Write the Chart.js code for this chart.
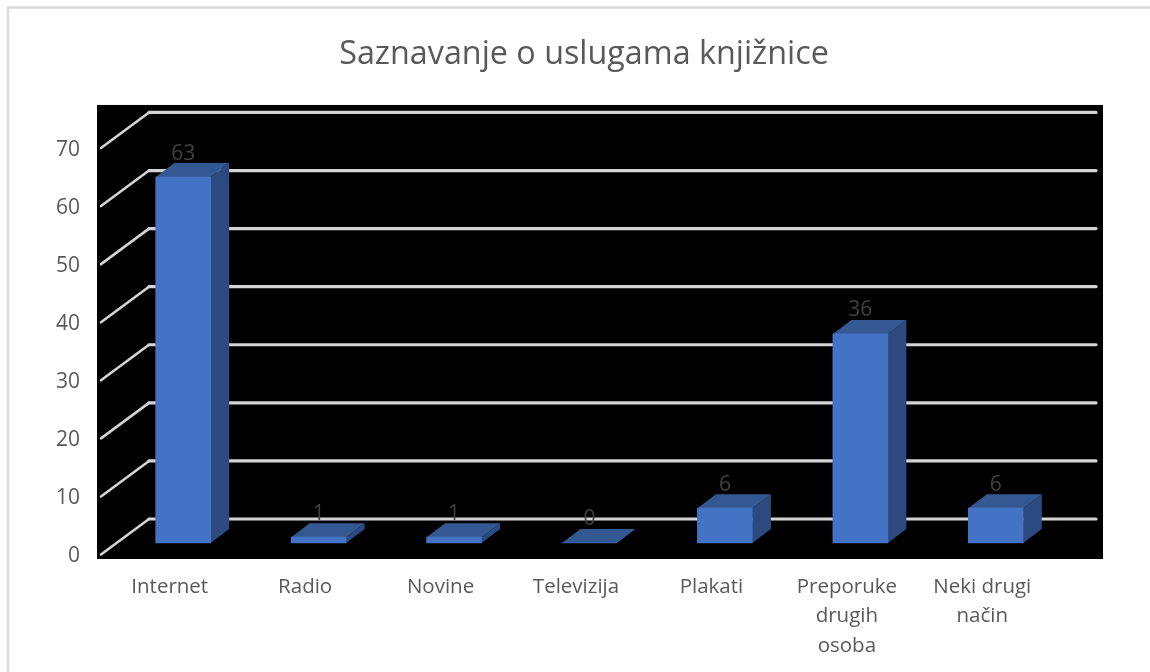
<!DOCTYPE html>
<html>
<head>
<meta charset="utf-8">
<title>Saznavanje o uslugama knjižnice</title>
<script src="https://cdn.jsdelivr.net/npm/chart.js@4"></script>
<style>
	html, body { margin: 0; padding: 0; background: #fff; overflow: hidden; }
	#wrap { position: relative; width: 1150px; height: 672px; }
</style>
</head>
<body>
<div id="wrap"><canvas id="chart" width="1150" height="672"></canvas></div>
<script>
const categories = ["Internet", "Radio", "Novine", "Televizija", "Plakati", ["Preporuke", "drugih", "osoba"], ["Neki drugi", "način"]];
const values = [63, 1, 1, 0, 6, 36, 6];
const yMax = 70;
const yStep = 10;

const fontName = '"Open Sans", sans-serif';
const textColor = "#595959";

// the 3d look: how far the back wall and the bar depth sit from the front plane
const wallDx = 47, wallDy = -35.5;
const barOffsetX = 13.5, barOffsetY = -11.5;
const depthX = 18.5, depthY = -14;

const fake3d = {
	id: "fake3d",
	beforeDraw(chart) {
		const c = chart.ctx, a = chart.chartArea;
		// outer frame, only top and left fall inside the picture
		c.save();
		c.strokeStyle = "#d9d9d9";
		c.lineWidth = 2.5;
		c.beginPath();
		c.moveTo(8, 672);
		c.lineTo(8, 7.5);
		c.lineTo(1150, 7.5);
		c.stroke();
		// black plot background
		c.fillStyle = "#000";
		c.fillRect(a.left - 5, a.top - 43, a.right - a.left + 58, a.bottom - a.top + 47.5);
		c.restore();
	},
	beforeDatasetsDraw(chart) {
		const c = chart.ctx, a = chart.chartArea, y = chart.scales.y;
		c.save();
		c.strokeStyle = "#d4d4d4";
		c.lineCap = "round";
		y.ticks.forEach(function(t) {
			const py = y.getPixelForValue(t.value);
			c.lineWidth = 2.6;
			c.beginPath();
			c.moveTo(a.left - 1, py);
			c.lineTo(a.left + wallDx, py + wallDy);
			c.stroke();
			c.lineWidth = 3.2;
			c.beginPath();
			c.moveTo(a.left + wallDx, py + wallDy);
			c.lineTo(a.right + wallDx - 1, py + wallDy);
			c.stroke();
		});
		c.restore();

		// top and side faces, taken from the bar elements
		const bars = chart.getDatasetMeta(0).data;
		c.save();
		c.translate(barOffsetX, barOffsetY);
		bars.forEach(function(b) {
			const x0 = b.x - b.width / 2, x1 = b.x + b.width / 2;
			c.fillStyle = "#2c4a80";
			c.beginPath();
			c.moveTo(x1, b.y);
			c.lineTo(x1 + depthX, b.y + depthY);
			c.lineTo(x1 + depthX, b.base + depthY);
			c.lineTo(x1, b.base);
			c.closePath();
			c.fill();
			c.fillStyle = "#345892";
			c.beginPath();
			c.moveTo(x0, b.y);
			c.lineTo(x1, b.y);
			c.lineTo(x1 + depthX, b.y + depthY);
			c.lineTo(x0 + depthX, b.y + depthY);
			c.closePath();
			c.fill();
		});
		c.restore();

		// front faces are drawn by chart.js itself, just shifted
		c.save();
		c.translate(barOffsetX, barOffsetY);
	},
	afterDatasetsDraw(chart) {
		const c = chart.ctx;
		c.restore();
		// value labels
		c.save();
		c.font = "21px " + fontName;
		c.fillStyle = "#404040";
		c.textAlign = "center";
		c.textBaseline = "middle";
		chart.getDatasetMeta(0).data.forEach(function(b, i) {
			c.fillText(values[i], b.x + barOffsetX, b.y + barOffsetY - 23.5);
		});
		c.restore();
	}
};

new Chart(document.getElementById("chart"), {
	type: "bar",
	data: {
		labels: categories,
		datasets: [{
			data: values,
			backgroundColor: "#4472c4",
			barThickness: 55,
			clip: false
		}]
	},
	plugins: [fake3d],
	options: {
		responsive: false,
		animation: false,
		layout: { padding: { left: 18, right: 0, top: 0, bottom: 0 } },
		plugins: {
			legend: { display: false },
			tooltip: { enabled: false },
			title: {
				display: true,
				text: "Saznavanje o uslugama knjižnice",
				color: textColor,
				font: { family: fontName, size: 32.3, weight: "normal", lineHeight: 1.2 },
				padding: { top: 35.5, bottom: 73.7 }
			}
		},
		scales: {
			x: {
				grid: { display: false, drawTicks: false },
				border: { display: false },
				ticks: {
					color: textColor,
					font: { family: fontName, size: 20.5, lineHeight: 1.44 },
					padding: 17.5,
					maxRotation: 0,
					autoSkip: false
				},
				afterFit(s) { s.height = 117.5; }
			},
			y: {
				min: 0,
				max: yMax,
				grid: { display: false, drawTicks: false },
				border: { display: false },
				ticks: {
					stepSize: yStep,
					color: textColor,
					font: { family: fontName, size: 21 },
					padding: 22,
					labelOffset: 2
				},
				afterFit(s) { s.width = 84; }
			},
			// empty axis that only keeps the right side free, so the title stays centred
			spacer: {
				type: "linear",
				position: "right",
				display: true,
				grid: { display: false, drawTicks: false },
				border: { display: false },
				ticks: { display: false },
				afterFit(s) { s.width = 100; }
			}
		}
	}
});
</script>
</body>
</html>
